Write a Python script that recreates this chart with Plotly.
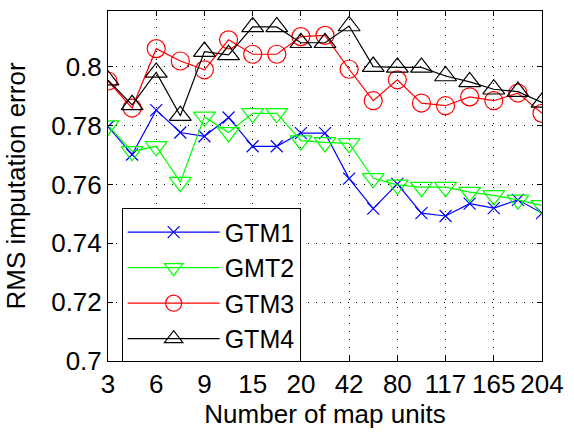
import plotly.graph_objects as go

x_index = list(range(19))
tick_positions = [0, 2, 4, 6, 8, 10, 12, 14, 16, 18]
tick_labels = ["3", "6", "9", "15", "20", "42", "80", "117", "165", "204"]

gtm1 = [0.7797, 0.7702, 0.7853, 0.7777, 0.7764, 0.7828, 0.7730, 0.7730, 0.7775, 0.7775,
        0.7620, 0.7518, 0.7602, 0.7503, 0.7493, 0.7535, 0.7520, 0.7548, 0.7503]
gmt2 = [0.7800, 0.7713, 0.7730, 0.7608, 0.7830, 0.7777, 0.7842, 0.7842, 0.7749, 0.7743,
        0.7740, 0.7621, 0.7599, 0.7591, 0.7591, 0.7574, 0.7563, 0.7548, 0.7529]
gtm3 = [0.7952, 0.7860, 0.8062, 0.8020, 0.7990, 0.8092, 0.8043, 0.8043, 0.8103, 0.8107,
        0.7992, 0.7885, 0.7956, 0.7877, 0.7868, 0.7898, 0.7885, 0.7911, 0.7842]
gtm4 = [0.7955, 0.7871, 0.7981, 0.7834, 0.8052, 0.8041, 0.8136, 0.8136, 0.8082, 0.8082,
        0.8139, 0.8001, 0.7998, 0.7998, 0.7969, 0.7949, 0.7924, 0.7916, 0.7879]

series = [
    ("GTM1", gtm1, "#0000FF", "x-thin-open", 12),
    ("GMT2", gmt2, "#00FF00", "triangle-down-open", 19),
    ("GTM3", gtm3, "#FF0000", "circle-open", 18),
    ("GTM4", gtm4, "#000000", "triangle-up-open", 19),
]

fig = go.Figure()
for name, vals, color, sym, size in series:
    fig.add_trace(go.Scatter(
        x=x_index, y=vals, mode="lines+markers", name=name,
        line=dict(color=color, width=1.2),
        marker=dict(symbol=sym, size=size, color=color, line=dict(color=color, width=1.2)),
    ))

font = "Liberation Sans, Arial, sans-serif"
fig.update_layout(
    width=574, height=432,
    margin=dict(l=108, r=22, t=10, b=71),
    paper_bgcolor="white", plot_bgcolor="white",
    font=dict(family=font, size=26, color="black"),
    showlegend=True,
    legend=dict(
        x=0.0315, y=0.436, xanchor="left", yanchor="top",
        bordercolor="black", borderwidth=1, bgcolor="white",
        font=dict(size=25), itemwidth=92, tracegroupgap=0,
    ),
    xaxis=dict(
        range=[0, 18], tickmode="array", tickvals=tick_positions, ticktext=tick_labels,
        showline=True, linecolor="black", linewidth=1, mirror="ticks",
        ticks="inside", ticklen=5, tickcolor="black",
        showgrid=True, gridcolor="black", gridwidth=1, griddash="1px,7px",
        zeroline=False,
        title=dict(text="Number of map units", font=dict(size=26), standoff=4),
        tickfont=dict(size=26),
    ),
    yaxis=dict(
        range=[0.7, 0.819], tickmode="array",
        tickvals=[0.70, 0.72, 0.74, 0.76, 0.78, 0.80],
        ticktext=["0.7", "0.72", "0.74", "0.76", "0.78", "0.8"],
        showline=True, linecolor="black", linewidth=1, mirror="ticks",
        ticks="inside", ticklen=5, tickcolor="black",
        showgrid=True, gridcolor="black", gridwidth=1, griddash="1px,7px",
        zeroline=False,
        title=dict(text="RMS imputation error", font=dict(size=26), standoff=18),
        tickfont=dict(size=26),
    ),
)

fig.write_html("out.html")
